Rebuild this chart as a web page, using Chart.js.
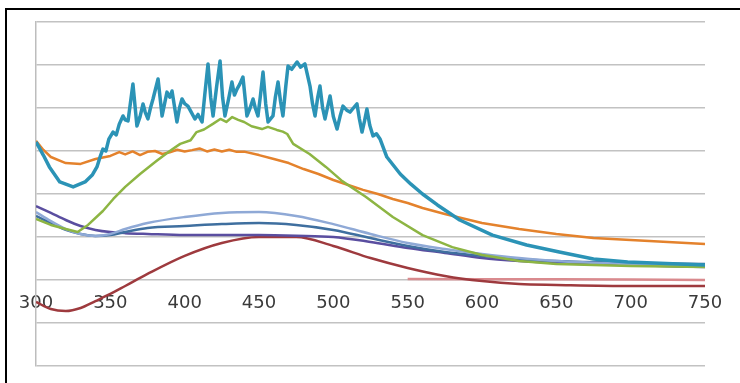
<!DOCTYPE html>
<html>
<head>
<meta charset="utf-8">
<script src="https://cdn.jsdelivr.net/npm/chart.js@4/dist/chart.umd.min.js"></script>
<style>
  html, body { margin: 0; padding: 0; background: #fff; overflow: hidden; }
  #wrap { position: relative; width: 740px; height: 383px; }
  #frame { position: absolute; left: 5px; top: 8px; width: 800px; height: 500px; border: 2px solid #000; pointer-events: none; }
</style>
</head>
<body>
<div id="wrap">
  <canvas id="chart"></canvas>
  <div id="frame"></div>
</div>
<script>
// wavelength ticks (nm)
const tickLabels = [300, 350, 400, 450, 500, 550, 600, 650, 700, 750];

// noisy teal series
const tealNm  = [300, 305, 309, 316, 325, 333, 338, 341, 343, 345, 347, 349, 351.8, 354, 356, 358.5, 360, 361.9, 365.2, 367.9,
                 370, 372, 373.5, 375.3, 377, 378.7, 382.1, 384.8, 386.5, 388.1, 390, 391.5, 394.8, 396.5, 398.2, 400, 402.2, 404.5, 406.9, 409,
                 411.7, 413.5, 415.7, 417.5, 419.1, 421.5, 423.8, 425.5, 427.1, 429.5, 431.8, 433.5, 435.2, 437, 439.2, 441.9, 444, 446, 447.5, 449.3,
                 451, 452.7, 454.5, 456.1, 459.4, 461, 462.8, 464.5, 466.1, 468, 469.5, 472, 475.6, 478, 480.9, 484.3, 486, 487.7, 489.5, 491,
                 492.8, 494.4, 496, 497.8, 500, 502.5, 504.5, 506.5, 509, 511.2, 513.5, 515.9, 517.5, 519.3, 521, 522.6, 524.5, 526.7, 529, 531.4,
                 536, 545, 552, 560, 570, 585, 607, 630, 652, 675, 698, 750];
const tealAbs = [0.642, 0.58, 0.526, 0.456, 0.433, 0.456, 0.490, 0.526, 0.57, 0.609, 0.60, 0.655, 0.688, 0.675, 0.725, 0.763, 0.745, 0.740, 0.912, 0.716,
                 0.76, 0.819, 0.78, 0.749, 0.80, 0.842, 0.935, 0.763, 0.82, 0.874, 0.85, 0.879, 0.735, 0.80, 0.842, 0.82, 0.809, 0.78, 0.749, 0.77,
                 0.735, 0.86, 1.005, 0.85, 0.763, 0.90, 1.019, 0.85, 0.763, 0.84, 0.921, 0.86, 0.888, 0.91, 0.944, 0.763, 0.80, 0.842, 0.80, 0.763,
                 0.86, 0.967, 0.82, 0.735, 0.763, 0.85, 0.921, 0.83, 0.763, 0.90, 0.995, 0.98, 1.014, 0.99, 1.005, 0.902, 0.82, 0.763, 0.85, 0.902,
                 0.80, 0.749, 0.80, 0.856, 0.76, 0.702, 0.76, 0.809, 0.79, 0.781, 0.80, 0.819, 0.75, 0.688, 0.74, 0.795, 0.72, 0.670, 0.68, 0.656,
                 0.572, 0.493, 0.447, 0.40, 0.349, 0.279, 0.209, 0.163, 0.130, 0.098, 0.084, 0.070];

const orangeNm  = [300, 305, 310, 320, 330, 340, 350, 356, 360, 365, 370, 375, 380, 385, 390, 395, 400, 405, 410, 415, 420, 425, 430, 435, 440, 450, 460, 470, 480, 490, 500, 510, 520, 530, 540, 550, 560, 575, 600, 625, 650, 675, 700, 750];
const orangeAbs = [0.647, 0.605, 0.572, 0.544, 0.540, 0.563, 0.577, 0.595, 0.584, 0.598, 0.581, 0.596, 0.600, 0.586, 0.594, 0.606, 0.598, 0.604, 0.612, 0.598, 0.607, 0.598, 0.606, 0.596, 0.597, 0.581, 0.563, 0.544, 0.516, 0.493, 0.465, 0.442, 0.419, 0.400, 0.377, 0.358, 0.335, 0.307, 0.265, 0.237, 0.214, 0.195, 0.186, 0.167];

const greenNm  = [300, 310, 320, 328, 335, 345, 352, 360, 370, 381, 390, 397, 404, 408, 413, 419, 424, 428, 432, 436, 440, 445, 452, 456, 462, 466, 469, 473, 484, 495, 506, 522, 540, 560, 580, 600, 625, 650, 700, 750];
const greenAbs = [0.284, 0.256, 0.237, 0.223, 0.256, 0.321, 0.377, 0.433, 0.493, 0.553, 0.600, 0.633, 0.650, 0.688, 0.700, 0.726, 0.749, 0.735, 0.758, 0.745, 0.735, 0.715, 0.702, 0.712, 0.698, 0.690, 0.679, 0.633, 0.586, 0.526, 0.460, 0.386, 0.293, 0.209, 0.153, 0.116, 0.088, 0.074, 0.065, 0.060];

const smoothNm = [300, 310, 320, 330, 340, 350, 360, 375, 400, 425, 450, 475, 500, 525, 550, 575, 600, 625, 650, 700, 750];
const purpleAbs    = [0.344, 0.312, 0.279, 0.251, 0.233, 0.223, 0.218, 0.214, 0.209, 0.209, 0.209, 0.206, 0.200, 0.177, 0.149, 0.126, 0.102, 0.088, 0.079, 0.070, 0.060];
const lightBlueAbs = [0.316, 0.274, 0.237, 0.214, 0.205, 0.214, 0.237, 0.265, 0.293, 0.312, 0.316, 0.298, 0.260, 0.214, 0.172, 0.144, 0.121, 0.102, 0.088, 0.074, 0.065];
const steelAbs     = [0.298, 0.265, 0.233, 0.214, 0.205, 0.209, 0.223, 0.242, 0.251, 0.260, 0.265, 0.256, 0.233, 0.195, 0.158, 0.130, 0.112, 0.098, 0.088, 0.079, 0.074];
const darkRedAbs   = [-0.102, -0.135, -0.144, -0.130, -0.098, -0.065, -0.028, 0.028, 0.112, 0.172, 0.200, 0.200, 0.158, 0.102, 0.056, 0.019, -0.005, -0.019, -0.023, -0.028, -0.028];

const pinkNm  = [550, 600, 650, 700, 750];
const pinkAbs = [0.005, 0.004, 0.003, 0.002, 0.0];

const pts = (xs, ys) => xs.map((x, i) => ({ x: x, y: ys[i] }));

const line = (label, xs, ys, color, width, tension) => ({
  label: label,
  data: pts(xs, ys),
  borderColor: color,
  borderWidth: width,
  borderJoinStyle: 'round',
  pointRadius: 0,
  tension: tension,
  cubicInterpolationMode: tension ? 'monotone' : 'default',
  fill: false
});

new Chart(document.getElementById('chart'), {
  type: 'line',
  data: {
    datasets: [
      line('teal', tealNm, tealAbs, '#2b93b6', 3.5, 0),
      line('green', greenNm, greenAbs, '#8db543', 2.5, 0),
      line('orange', orangeNm, orangeAbs, '#e4822c', 2.5, 0),
      line('lightblue', smoothNm, lightBlueAbs, '#8fa9d6', 2.5, 0.4),
      line('steel', smoothNm, steelAbs, '#3f6f9f', 2.5, 0.4),
      line('purple', smoothNm, purpleAbs, '#5a4ea0', 2.5, 0.4),
      line('darkred', smoothNm, darkRedAbs, '#9e3a3e', 2.5, 0.4),
      line('pink', pinkNm, pinkAbs, '#d98a8e', 2.5, 0)
    ]
  },
  options: {
    responsive: true,
    maintainAspectRatio: false,
    animation: false,
    layout: { padding: { left: 36, right: 35, top: 22, bottom: 17 } },
    plugins: { legend: { display: false }, tooltip: { enabled: false } },
    scales: {
      x: {
        type: 'linear',
        position: { y: 0 },
        min: 300,
        max: 750,
        afterBuildTicks: (scale) => { scale.ticks = tickLabels.map(v => ({ value: v })); },
        ticks: {
          font: { family: 'DejaVu Sans', size: 18 },
          color: '#3a3a3a',
          padding: 13,
          maxRotation: 0,
          autoSkip: false
        },
        grid: { display: false, drawTicks: false },
        border: { display: false }
      },
      y: {
        min: -0.4,
        max: 1.2,
        ticks: { display: false, stepSize: 0.2 },
        grid: { color: '#c2c2c2', lineWidth: 1.5, drawTicks: false },
        border: { color: '#bdbdbd', width: 1.5 }
      }
    }
  }
});
</script>
</body>
</html>
